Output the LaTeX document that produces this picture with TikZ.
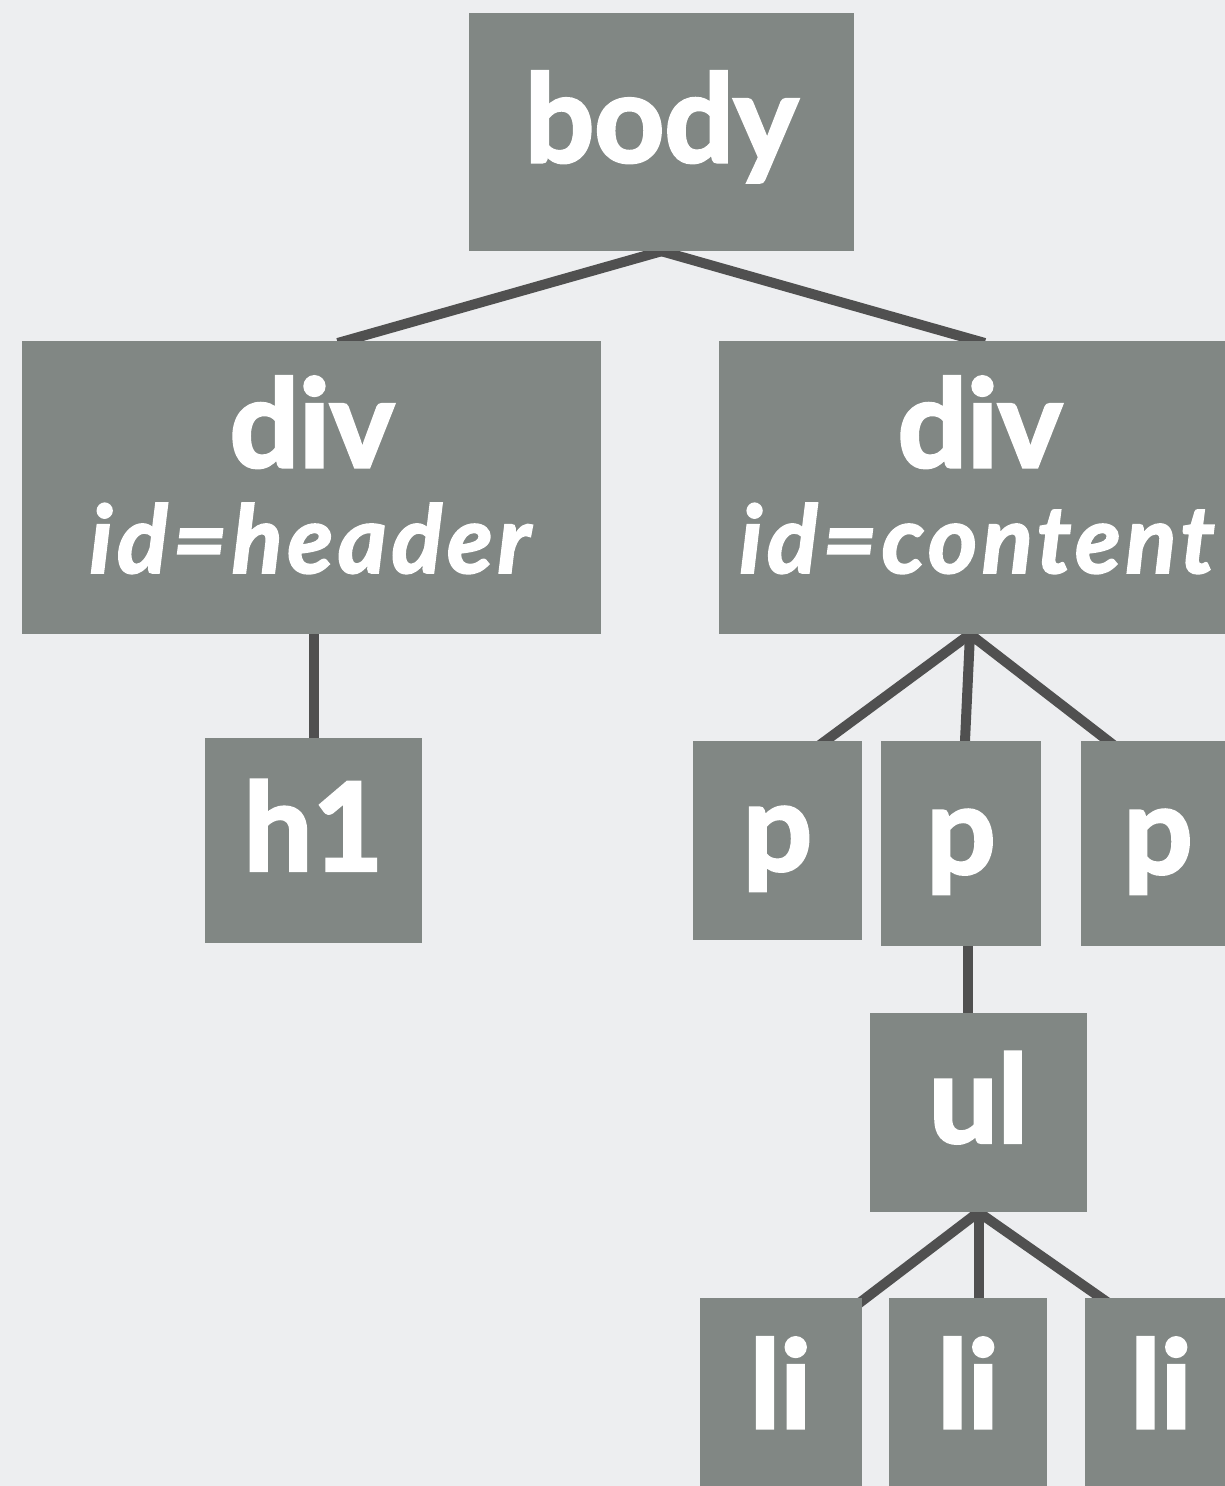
\documentclass[tikz,border=0pt]{standalone}
\usepackage{fontspec}
\setmainfont{Lato}[BoldFeatures={FakeBold=2.5},BoldItalicFeatures={FakeBold=2}]
\usetikzlibrary{calc}
\definecolor{paper}{HTML}{EDEEF0}
\definecolor{boxgray}{HTML}{818784}
\definecolor{wire}{HTML}{505050}
\pgfdeclarelayer{back}
\pgfdeclarelayer{mid}
\pgfsetlayers{back,mid,main}
\newcommand{\tagfont}{\fontsize{122}{122}\selectfont\bfseries}
\newcommand{\idfont}{\fontsize{94}{94}\selectfont\bfseries\itshape\addfontfeature{LetterSpace=5}}
\tikzset{
  box/.style={fill=boxgray, inner sep=0pt},
  tag/.style={box, text=white, font=\tagfont, text height=90pt, text depth=30pt},
  caption/.style={text=white, inner sep=0pt, anchor=base},
  wirelink/.style={draw=wire, line width=10pt, shorten <=-8pt, shorten >=-8pt},
}
\begin{document}
\begin{tikzpicture}[x=1pt,y=-1pt]
\useasboundingbox (0,0) rectangle (1225,1486);
\begin{pgfonlayer}{back}
  \fill[paper] (0,0) rectangle (1225,1486);
\end{pgfonlayer}
\clip (0,0) rectangle (1225,1486);

% element boxes
\node[tag, minimum width=385, minimum height=238] (body) at (661.5,132) {body};

\node[box, minimum width=579, minimum height=293] (header) at (311.5,487.5) {};
\node[caption, font=\tagfont] (headerName) at (312,467) {div};
\node[caption, font=\idfont] (headerId) at (310,573) {id=header};

\node[box, minimum width=516, minimum height=293] (content) at (977,487.5) {};
\node[caption, font=\tagfont] (contentName) at (980,467) {div};
\node[caption, font=\idfont] (contentId) at (977,573) {id=content};

\node[tag, minimum width=217, minimum height=205] (h1) at (313.5,840.5) {h1};

\node[tag, minimum width=169, minimum height=199] (p1) at (777.5,840.5) {p};
\node[tag, minimum width=160, minimum height=205] (p2) at (961,843.5) {p};
\node[tag, minimum width=154, minimum height=205] (p3) at (1158,843.5) {p};

\node[tag, minimum width=217, minimum height=199] (ul) at (978.5,1112.5) {ul};

\node[tag, minimum width=162, minimum height=200] (li1) at (780.5,1398) {li};
\node[tag, minimum width=158, minimum height=200] (li2) at (968,1398) {li};
\node[tag, minimum width=152, minimum height=200] (li3) at (1161,1398) {li};

% tree edges, drawn beneath the boxes
\begin{pgfonlayer}{mid}
  \draw[wirelink] (body.south) -- ([xshift=34pt]header.north);
  \draw[wirelink] (body.south) -- (content.north);
  \draw[wirelink] (h1.north |- header.south) -- (h1.north);
  \draw[wirelink] ([xshift=-7pt]content.south) -- ([xshift=48pt]p1.north);
  \draw[wirelink] ([xshift=-7pt]content.south) -- ([xshift=4pt]p2.north);
  \draw[wirelink] ([xshift=-7pt]content.south) -- ([xshift=-50pt]p3.north);
  \draw[wirelink] ([xshift=7pt]p2.south) -- ([xshift=7pt]p2.south |- ul.north);
  \draw[wirelink] (ul.south) -- ($(li1.north east)+(-10,11)$);
  \draw[wirelink] (ul.south) -- (ul.south |- li2.north);
  \draw[wirelink] (ul.south) -- ([xshift=-60pt]li3.north);
\end{pgfonlayer}
\end{tikzpicture}
\end{document}
